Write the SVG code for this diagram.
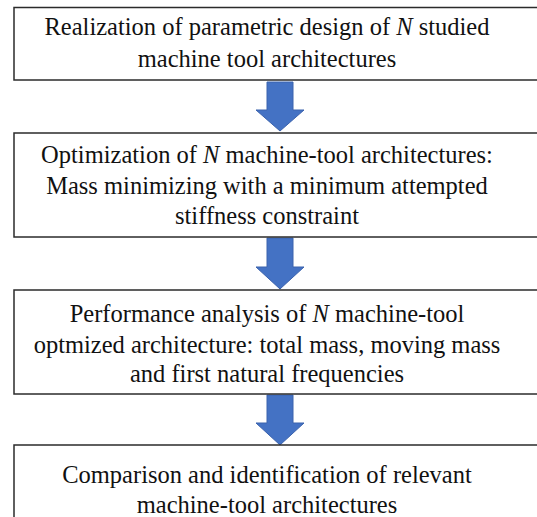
<svg xmlns="http://www.w3.org/2000/svg" width="537" height="517" viewBox="0 0 537 517">
<defs>
<style>
.box{fill:#fff;stroke:#2b2b2b;stroke-width:1.5}
.arr{fill:#4472c4;stroke:#3a62ad;stroke-width:1}
</style>
</defs>
<rect width="537" height="517" fill="#fff"/>
<g id="connectors">
<polygon class="arr" points="267,82 293,82 293,110 304,110 280,131 256,110 267,110"/>
<polygon class="arr" points="267,238 293,238 293,267 304,267 280,289 256,267 267,267"/>
<polygon class="arr" points="267,395 293,395 293,423 304,423 280,445 256,423 267,423"/>
</g>
<g id="n1">
<rect class="box" x="14" y="7.5" width="540" height="72.5"/>
<text font-family="Liberation Serif" font-size="24.5" text-anchor="middle" fill="#111"><tspan x="267" y="35">Realization of parametric design of <tspan font-style="italic">N</tspan> studied</tspan><tspan x="267" y="67">machine tool architectures</tspan></text>
</g>
<g id="n2">
<rect class="box" x="14" y="133" width="540" height="104"/>
<text font-family="Liberation Serif" font-size="24.5" text-anchor="middle" fill="#111"><tspan x="267" y="163">Optimization of <tspan font-style="italic">N</tspan> machine-tool architectures:</tspan><tspan x="267" y="194">Mass minimizing with a minimum attempted</tspan><tspan x="267" y="224">stiffness constraint</tspan></text>
</g>
<g id="n3">
<rect class="box" x="14" y="290" width="540" height="104"/>
<text font-family="Liberation Serif" font-size="24.5" text-anchor="middle" fill="#111"><tspan x="267" y="322">Performance analysis of <tspan font-style="italic">N</tspan> machine-tool</tspan><tspan x="267" y="353">optmized architecture: total mass, moving mass</tspan><tspan x="267" y="382">and first natural frequencies</tspan></text>
</g>
<g id="n4">
<rect class="box" x="14" y="445" width="540" height="100"/>
<text font-family="Liberation Serif" font-size="24.5" text-anchor="middle" fill="#111"><tspan x="267" y="483">Comparison and identification of relevant</tspan><tspan x="267" y="513">machine-tool architectures</tspan></text>
</g>
</svg>
